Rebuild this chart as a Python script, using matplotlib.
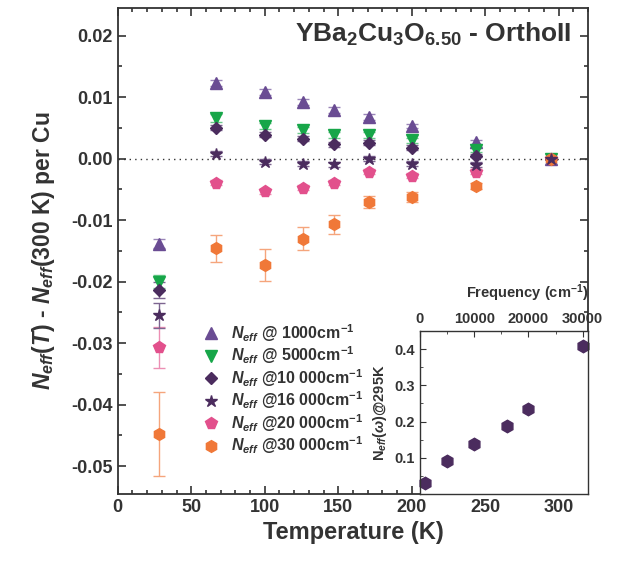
import numpy as np
import matplotlib
matplotlib.use('Agg')
import matplotlib.pyplot as plt
from matplotlib.ticker import MultipleLocator, FuncFormatter
from matplotlib.lines import Line2D

plt.rcParams['font.family'] = ['Liberation Sans', 'DejaVu Sans']
plt.rcParams['font.weight'] = 'bold'
plt.rcParams['axes.unicode_minus'] = False
plt.rcParams['mathtext.fontset'] = 'custom'
plt.rcParams['mathtext.rm'] = 'Liberation Sans:bold'
plt.rcParams['mathtext.it'] = 'Liberation Sans:bold:italic'
plt.rcParams['mathtext.bf'] = 'Liberation Sans:bold'

# temperatures (K)
temps = [28, 67, 100, 126, 147, 171, 200, 244, 295]

n1000 = [-0.0138, 0.0123, 0.0108, 0.0092, 0.0079, 0.0068, 0.0053, 0.0027, 0.0]
n5000 = [-0.0200, 0.0066, 0.0053, 0.0047, 0.0039, 0.0039, 0.0030, 0.0014, 0.0]
n10000 = [-0.0213, 0.0050, 0.0039, 0.0032, 0.0023, 0.0026, 0.0018, 0.0005, 0.0]
n16000 = [-0.0255, 0.0008, -0.0005, -0.0008, -0.0009, 0.0000, -0.0008, -0.0010, 0.0]
n20000 = [-0.0307, -0.0039, -0.0053, -0.0047, -0.0039, -0.0021, -0.0028, -0.0021, 0.0]
n30000 = [-0.0448, -0.0146, -0.0173, -0.0130, -0.0107, -0.0071, -0.0063, -0.0044, 0.0]

e1000 = [0.0008, 0.0005, 0.0005, 0.0005, 0.0005, 0.0005, 0.0004, 0.0004, 0.0]
e5000 = [0.0011, 0.0006, 0.0005, 0.0005, 0.0005, 0.0005, 0.0004, 0.0004, 0.0]
e10000 = [0.0013, 0.0004, 0.0004, 0.0004, 0.0004, 0.0004, 0.0004, 0.0003, 0.0]
e16000 = [0.0020, 0.0004, 0.0004, 0.0004, 0.0004, 0.0004, 0.0004, 0.0004, 0.0]
e20000 = [0.0034, 0.0004, 0.0004, 0.0004, 0.0004, 0.0004, 0.0004, 0.0004, 0.0]
e30000 = [0.0068, 0.0022, 0.0026, 0.0019, 0.0016, 0.0010, 0.0008, 0.0005, 0.0]

# inset: N_eff at 295 K vs frequency
freqs = [1000, 5000, 10000, 16000, 20000, 30000]
neff295 = [0.029, 0.092, 0.138, 0.187, 0.235, 0.410]

series = [
    (n1000, e1000, '^', '#6a4c93', '#9a85b8', r'$N_{eff}$ @ 1000cm$^{-1}$', 8),
    (n5000, e5000, 'v', '#17a649', '#6cc98c', r'$N_{eff}$ @ 5000cm$^{-1}$', 8),
    (n10000, e10000, 'D', '#4b2c5e', '#7d6590', r'$N_{eff}$ @10 000cm$^{-1}$', 6.5),
    (n20000, e20000, 'p', '#e2508c', '#ec8fb4', r'$N_{eff}$ @20 000cm$^{-1}$', 8.5),
    (n30000, e30000, 'h', '#f07838', '#f5a57c', r'$N_{eff}$ @30 000cm$^{-1}$', 8.5),
    (n16000, e16000, '*', '#4b2c5e', '#7d6590', r'$N_{eff}$ @16 000cm$^{-1}$', 9),
]
legend_order = [0, 1, 2, 5, 3, 4]

txt = '#333333'
fig = plt.figure(figsize=(6.23, 5.67), dpi=100)
ax = fig.add_axes([0.189, 0.129, 0.755, 0.857])

handles = []
for vals, errs, m, c, ec, lab, ms in series:
    ax.errorbar(temps, vals, yerr=errs, fmt=m, color=c, ecolor=ec, ms=ms,
                mec=c, capsize=4, elinewidth=1, capthick=1)
    handles.append(Line2D([], [], ls='none', marker=m, color=c, ms=ms, label=lab))
handles = [handles[i] for i in legend_order]

ax.axhline(0, color='#333333', ls=(0, (1, 3)), lw=1, zorder=0)

ax.set_xlim(0, 320)
ax.set_ylim(-0.0545, 0.0245)
ax.xaxis.set_major_locator(MultipleLocator(50))
ax.xaxis.set_minor_locator(MultipleLocator(10))
ax.yaxis.set_major_locator(MultipleLocator(0.01))
ax.yaxis.set_minor_locator(MultipleLocator(0.005))
ax.tick_params(which='both', direction='in', top=True, right=True, colors=txt,
               labelsize=13, width=1.2)
ax.tick_params(which='major', length=6)
ax.tick_params(which='minor', length=3)
ax.yaxis.set_major_formatter(FuncFormatter(lambda v, p: '%.2f' % (round(v, 4) + 0.0)))
for s in ax.spines.values():
    s.set_linewidth(1.3)
    s.set_color(txt)

ax.set_xlabel('Temperature (K)', fontsize=17, fontweight='bold', color=txt)
ax.set_ylabel(r'$N_{eff}(T)$ - $N_{eff}$(300 K) per Cu', fontsize=16.5,
              fontweight='bold', color=txt, labelpad=10)
ax.text(0.965, 0.945, r'YBa$_2$Cu$_3$O$_{6.50}$ - OrthoII', transform=ax.transAxes,
        ha='right', va='center', fontsize=19, fontweight='bold', color=txt)

ax.legend(handles=handles, loc='upper left', bbox_to_anchor=(0.16, 0.37),
          frameon=False, fontsize=11.5, handletextpad=0.7, handlelength=1.2,
          labelspacing=0.05, borderpad=0, labelcolor=txt)

ins = fig.add_axes([0.674, 0.129, 0.270, 0.287])
ins.plot(freqs, neff295, 'h', color='#4b2c5e', ms=9, clip_on=False)
ins.set_xlim(0, 31000)
ins.set_ylim(0, 0.45)
ins.xaxis.tick_top()
ins.xaxis.set_label_position('top')
ins.xaxis.set_major_locator(MultipleLocator(10000))
ins.xaxis.set_minor_locator(MultipleLocator(5000))
ins.set_yticks([0.1, 0.2, 0.3, 0.4])
ins.yaxis.set_minor_locator(MultipleLocator(0.05))
ins.tick_params(which='both', direction='in', colors=txt, labelsize=10.5,
                bottom=False, right=False, top=True, left=True)
ins.tick_params(which='major', length=4)
ins.tick_params(which='minor', length=2)
ins.set_xlabel(r'Frequency (cm$^{-1}$)', fontsize=10.5, fontweight='bold',
               color=txt, loc='right', labelpad=10)
ins.set_ylabel(r'N$_{eff}$($\omega$)@295K', fontsize=10.5, fontweight='bold', color=txt)
for s in ins.spines.values():
    s.set_linewidth(1.0)
    s.set_color(txt)

fig.savefig('out.png', dpi=100)
